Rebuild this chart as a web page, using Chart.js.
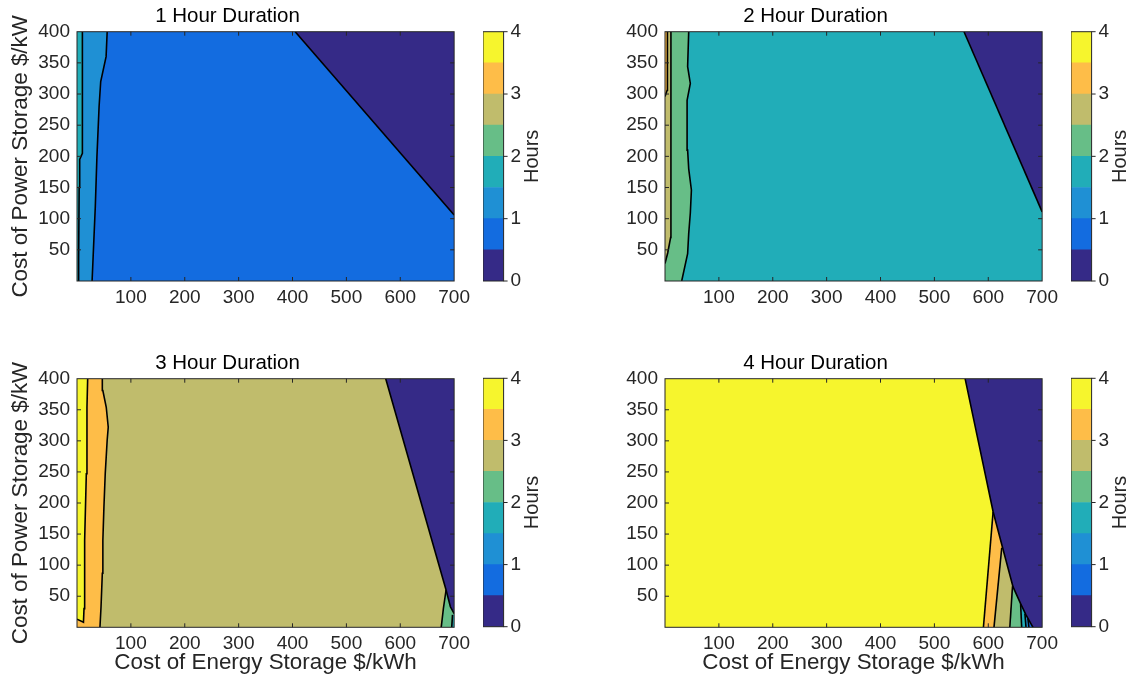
<!DOCTYPE html>
<html>
<head>
<meta charset="utf-8">
<title>Storage duration</title>
<script src="https://cdn.jsdelivr.net/npm/chart.js@4.4.1/dist/chart.umd.min.js"></script>
<style>
  html, body { margin: 0; padding: 0; background: #fff; }
  #page { position: relative; width: 1133px; height: 680px; overflow: hidden; }
  canvas { position: absolute; }
</style>
</head>
<body>
<div id="page">
  <canvas id="p1" width="475" height="340" style="left:0;top:0"></canvas>
  <canvas id="cb1" width="70" height="340" style="left:483px;top:0"></canvas>
  <canvas id="p2" width="475" height="340" style="left:588px;top:0"></canvas>
  <canvas id="cb2" width="62" height="340" style="left:1071px;top:0"></canvas>
  <canvas id="p3" width="475" height="333" style="left:0;top:347px"></canvas>
  <canvas id="cb3" width="70" height="333" style="left:483px;top:347px"></canvas>
  <canvas id="p4" width="475" height="333" style="left:588px;top:347px"></canvas>
  <canvas id="cb4" width="62" height="333" style="left:1071px;top:347px"></canvas>
</div>
<script>
// axes
const X_MAX = 700, Y_MAX = 400;
const X_TICKS = [100, 200, 300, 400, 500, 600, 700];
const Y_TICKS = [50, 100, 150, 200, 250, 300, 350, 400];
const HOUR_TICKS = [0, 1, 2, 3, 4];
const LEVELS = [0, 0.5, 1, 1.5, 2, 2.5, 3, 3.5, 4];
const PARULA = ['#352a87', '#136ce0', '#1f90d4', '#21adb8', '#67be87', '#c0bc6c', '#febd48', '#f6f52d'];

// contour lines, [energy $/kWh, power $/kW], listed from bottom to top
// 1 hour
const oneHr15 = [[2, 0], [3, 35], [4, 150], [5, 195], [10, 205], [10, 400]];
const oneHr10 = [[28, 0], [30, 40], [34, 120], [37, 200], [41, 280], [44, 320], [54, 360], [56, 400]];
const oneHr05 = [[700, 106], [405, 400]];
// 2 hour
const twoHr30 = [[0, 296], [4, 306], [4.5, 350], [4.5, 400]];
const twoHr25 = [[0, 28], [5, 45], [10.5, 70], [11, 150], [11, 400]];
const twoHr20 = [[31, 0], [42, 44], [44, 76], [47, 109], [49, 146], [44, 180], [42, 210], [41, 290], [47, 317], [42, 344], [44, 400]];
const twoHr05 = [[700, 111], [555, 400]];
// 3 hour
const threeHr35 = [[0, 13], [12, 8], [13, 30], [13.6, 87], [14.8, 140], [17.3, 247], [18.5, 354], [19.8, 400]];
const threeHr30 = [[42.6, 0], [44.6, 33], [47, 87], [48, 140], [50, 194], [52.4, 247], [56, 301], [58, 322], [54.3, 354], [48, 381], [47, 400]];
const threeHr20 = [[676, 0], [680, 30], [685, 60]];
const threeHr15 = [[695.5, 0], [697, 20]];
const threeHr05 = [[700, 22], [693, 33], [685, 60], [573, 400]];
// 4 hour
const fourHr35 = [[591, 0], [609, 186]];
const fourHr30 = [[610.6, 0], [625, 128]];
const fourHr25 = [[640, 0], [645, 66]];
const fourHr20 = [[662, 0], [660, 38]];
const fourHr15 = [[670, 0], [668, 22]];
const fourHr10 = [[675.5, 0], [673.5, 14]];
const fourHr05 = [[683, 0], [677, 9], [670, 20], [660, 38], [646, 65], [626, 130], [609, 186], [583, 293], [557, 400]];

Chart.defaults.font.family = "'Liberation Sans', Arial, sans-serif";
Chart.defaults.color = '#262626';

const box = [[0, 0], [0, Y_MAX], [X_MAX, Y_MAX], [X_MAX, 0]];
const toXY = arr => arr.map(([x, y]) => ({ x, y }));
// close a contour line against the left or right edge of the plot
function leftOf(c) {
  const a = c[0], b = c[c.length - 1];
  return [...c, [0, b[1]], [0, a[1]]];
}
function rightOf(c) {
  const a = c[0], b = c[c.length - 1];
  return [...c, [X_MAX, b[1]], [X_MAX, a[1]]];
}

function areaSet(poly, band) {
  return {
    data: toXY(poly), backgroundColor: PARULA[band], borderColor: 'rgba(0,0,0,0)',
    borderWidth: 0, fill: 'shape', pointRadius: 0, tension: 0
  };
}
function lineSet(c) {
  return { data: toXY(c), borderColor: '#000', borderWidth: 1.6, fill: false, pointRadius: 0, tension: 0 };
}

// box and inward tick marks on all four sides
const axesBox = {
  id: 'axesBox',
  afterDraw(chart) {
    const { ctx, chartArea: a, scales: { x, y } } = chart;
    const len = 4;
    ctx.save();
    ctx.strokeStyle = '#262626';
    ctx.lineWidth = 1;
    ctx.beginPath();
    x.ticks.forEach(t => {
      const px = x.getPixelForValue(t.value);
      if (px > a.right - 1) return;
      ctx.moveTo(px, a.bottom); ctx.lineTo(px, a.bottom - len);
      ctx.moveTo(px, a.top); ctx.lineTo(px, a.top + len);
    });
    y.ticks.forEach(t => {
      const py = y.getPixelForValue(t.value);
      if (py < a.top + 1) return;
      ctx.moveTo(a.left, py); ctx.lineTo(a.left + len, py);
      ctx.moveTo(a.right, py); ctx.lineTo(a.right - len, py);
    });
    ctx.stroke();
    ctx.strokeRect(a.left, a.top, a.width, a.height);
    ctx.restore();
  }
};

function contourPanel(id, title, layers, lines, yTitle, xTitle) {
  const sets = [...layers.map(([p, band]) => areaSet(p, band)), ...lines.map(lineSet)];
  sets.forEach((s, i) => { s.order = -i; });
  const bottomRow = xTitle;
  return new Chart(document.getElementById(id), {
    type: 'line',
    data: { datasets: sets },
    options: {
      responsive: false,
      animation: false,
      layout: { padding: { right: 20 } },
      plugins: {
        legend: { display: false },
        tooltip: { enabled: false },
        title: {
          display: true, text: title, color: '#000',
          font: { size: 20.5, weight: 'normal' },
          padding: { top: 3.9, bottom: 3.2 }
        }
      },
      scales: {
        x: {
          type: 'linear', min: 0, max: X_MAX,
          afterBuildTicks: s => { s.ticks = X_TICKS.map(v => ({ value: v })); },
          ticks: { font: { size: 19 }, padding: 5, maxRotation: 0, autoSkip: false },
          grid: { display: false, drawTicks: false },
          border: { display: false },
          title: {
            display: bottomRow, text: 'Cost of Energy Storage $/kWh',
            font: { size: 22.4 }, padding: { top: 0, bottom: 3.6 }
          },
          afterFit: s => { s.height = bottomRow ? 52.7 : 59; }
        },
        y: {
          type: 'linear', min: 0, max: Y_MAX,
          afterBuildTicks: s => { s.ticks = Y_TICKS.map(v => ({ value: v })); },
          ticks: { font: { size: 19 }, padding: 7, autoSkip: false },
          grid: { display: false, drawTicks: false },
          border: { display: false },
          title: {
            display: yTitle, text: 'Cost of Power Storage $/kW',
            font: { size: 22.4 }, padding: { top: 7, bottom: 0 }
          },
          afterFit: s => { s.width = 77; }
        }
      }
    },
    plugins: [axesBox]
  });
}

// colour bar frame, ticks and rotated label
const barFrame = {
  id: 'barFrame',
  afterDraw(chart) {
    const { ctx, chartArea: a, scales: { y } } = chart;
    ctx.save();
    ctx.strokeStyle = '#262626';
    ctx.lineWidth = 1;
    ctx.beginPath();
    y.ticks.forEach(t => {
      const py = y.getPixelForValue(t.value);
      ctx.moveTo(a.right, py); ctx.lineTo(a.right + 4, py);
    });
    ctx.stroke();
    ctx.strokeRect(a.left, a.top, a.width, a.height);
    ctx.translate(a.right + 28.5, (a.top + a.bottom) / 2);
    ctx.rotate(-Math.PI / 2);
    ctx.fillStyle = '#262626';
    ctx.font = "20px 'Liberation Sans', Arial, sans-serif";
    ctx.textAlign = 'center';
    ctx.textBaseline = 'middle';
    ctx.fillText('Hours', 0, 0);
    ctx.restore();
  }
};

function colorbar(id, top, bottom) {
  const el = document.getElementById(id);
  const sets = PARULA.map((c, i) => ({
    data: [[LEVELS[i], LEVELS[i + 1]]], backgroundColor: c, borderWidth: 0,
    barPercentage: 1, categoryPercentage: 1, grouped: false
  }));
  return new Chart(el, {
    type: 'bar',
    data: { labels: ['Hours'], datasets: sets },
    options: {
      responsive: false,
      animation: false,
      layout: { padding: { top, bottom } },
      plugins: { legend: { display: false }, tooltip: { enabled: false } },
      scales: {
        x: { display: false },
        y: {
          position: 'right', min: 0, max: 4,
          afterBuildTicks: s => { s.ticks = HOUR_TICKS.map(v => ({ value: v })); },
          ticks: { font: { size: 19 }, padding: 7 },
          grid: { display: false, drawTicks: false },
          border: { display: false },
          afterFit: s => { s.width = el.width - 20.6; }
        }
      }
    },
    plugins: [barFrame]
  });
}

contourPanel('p1', '1 Hour Duration',
  [[box, 1], [leftOf(oneHr10), 2], [leftOf(oneHr15), 3], [rightOf(oneHr05), 0]],
  [oneHr15, oneHr10, oneHr05], true, false);

contourPanel('p2', '2 Hour Duration',
  [[box, 3], [leftOf(twoHr20), 4], [leftOf(twoHr25), 5], [leftOf(twoHr30), 6], [rightOf(twoHr05), 0]],
  [twoHr30, twoHr25, twoHr20, twoHr05], false, false);

contourPanel('p3', '3 Hour Duration',
  [[box, 5], [leftOf(threeHr30), 6], [leftOf(threeHr35), 7], [rightOf(threeHr20), 4],
   [rightOf(threeHr15), 3], [rightOf(threeHr05), 0]],
  [threeHr35, threeHr30, threeHr20, threeHr15, threeHr05], true, true);

contourPanel('p4', '4 Hour Duration',
  [[box, 7], [rightOf(fourHr35), 6], [rightOf(fourHr30), 5], [rightOf(fourHr25), 4],
   [rightOf(fourHr20), 3], [rightOf(fourHr15), 2], [rightOf(fourHr10), 1], [rightOf(fourHr05), 0]],
  [fourHr35, fourHr30, fourHr25, fourHr20, fourHr15, fourHr10, fourHr05], false, true);

colorbar('cb1', 31.7, 59);
colorbar('cb2', 31.7, 59);
colorbar('cb3', 31.3, 53.3);
colorbar('cb4', 31.3, 53.3);
</script>
</body>
</html>
